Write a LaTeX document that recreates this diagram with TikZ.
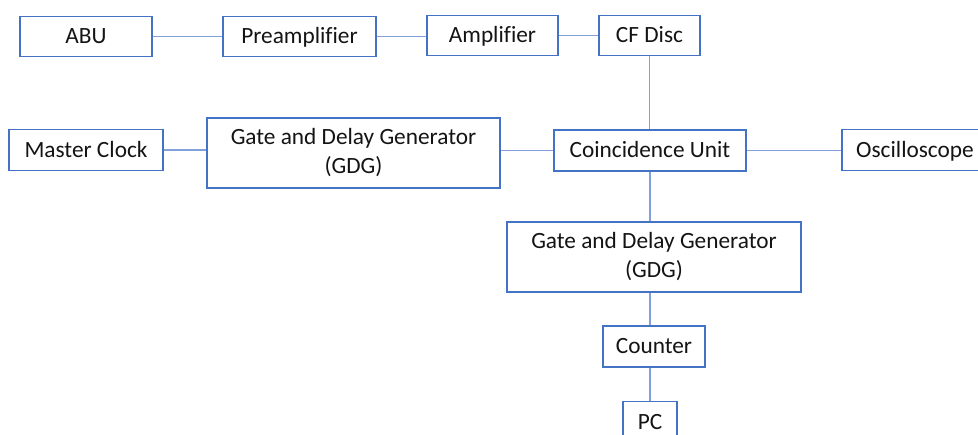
\documentclass[tikz,border=0pt]{standalone}
\usepackage{fontspec}
\setmainfont[Ligatures=CommonOff]{Carlito}
\definecolor{boxblue}{RGB}{68,114,196}
\definecolor{linkblue}{RGB}{130,160,218}
\definecolor{txt}{RGB}{20,20,20}
\begin{document}
\begin{tikzpicture}[x=1pt,y=-1pt,
  blk/.style={draw=boxblue,line width=1.4pt,fill=white,inner sep=0pt,
    text height=14.8pt,text depth=0pt,
    align=center,text=txt,font=\fontsize{23.3}{29}\selectfont},
  twoline/.style={text height=,text depth=},
  link/.style={draw=linkblue,line width=1.1pt}]
\useasboundingbox (0,0) rectangle (978,435);
\node[blk,minimum width=132,minimum height=40] (abu) at (86,36.5) {ABU};
\node[blk,minimum width=153,minimum height=40] (pre) at (299.5,36.5) {Preamplifier};
\node[blk,minimum width=131,minimum height=40] (amp) at (492.5,35.5) {Amplifier};
\node[blk,minimum width=101,minimum height=40] (cf) at (649.5,35.5) {CF Disc};
\node[blk,minimum width=154,minimum height=41] (mc) at (86,150) {Master Clock};
\node[blk,twoline,minimum width=293,minimum height=70] (gdga) at (353.5,153) {Gate and Delay Generator\\(GDG)};
\node[blk,minimum width=192,minimum height=41] (coinc) at (650,150.5) {Coincidence Unit};
\node[blk,minimum width=146,minimum height=41] (osc) at (915,150) {Oscilloscope};
\node[blk,twoline,minimum width=294,minimum height=70] (gdgb) at (654,257) {Gate and Delay Generator\\(GDG)};
\node[blk,minimum width=102,minimum height=41] (cnt) at (654,346.5) {Counter};
\node[blk,minimum width=54,minimum height=41,anchor=north] (pc) at (650,401) {PC};
\draw[link] (abu.east) -- (pre.west);
\draw[link] (pre.east) -- (pre.east -| amp.west);
\draw[link] (amp.east) -- (cf.west);
\draw[link] (cf.south) -- (cf.south |- coinc.north);
\draw[link] (mc.east) -- (mc.east -| gdga.west);
\draw[link] (gdga.east |- coinc.west) -- (coinc.west);
\draw[link] (coinc.east) -- (coinc.east -| osc.west);
\draw[link] (coinc.south) -- (coinc.south |- gdgb.north);
\draw[link] (coinc.south |- gdgb.south) -- (coinc.south |- cnt.north);
\draw[link] (pc.north |- cnt.south) -- (pc.north);
\end{tikzpicture}
\end{document}
